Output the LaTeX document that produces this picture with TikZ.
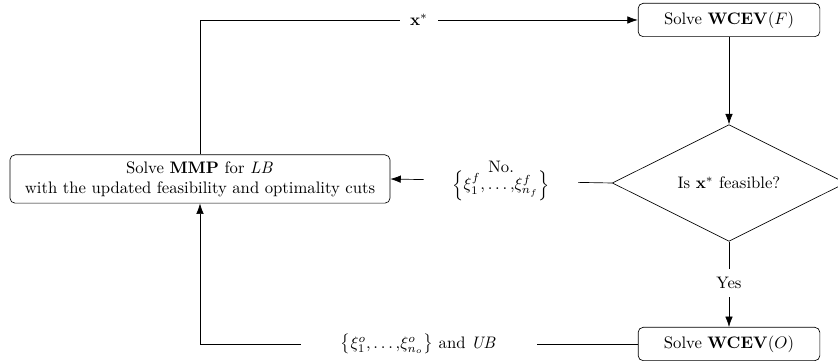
\documentclass[tikz,border=0pt]{standalone}
\usetikzlibrary{shapes.geometric, arrows.meta, positioning}
\tikzset{
  loop/.style = {
    font=\normalsize,
    >={Latex[length=2.2mm, width=1.6mm]},
  },
  solve/.style = {
    rectangle, rounded corners=3pt, draw, thin,
    minimum width=109pt, minimum height=20pt, align=center, inner sep=2pt,
  },
  master/.style = {
    solve, minimum width=228pt, minimum height=29pt,
  },
  test/.style = {
    diamond, draw, thin, minimum width=140pt, minimum height=70pt,
    inner sep=0pt, align=center,
  },
  arr/.style = {->, thin},
  lbl/.style = {fill=white, inner ysep=2pt, align=center},
}

\begin{document}
\begin{tikzpicture}[loop, x=0.6pt, y=0.6pt]

\useasboundingbox (0,0) rectangle (838,-361);

\node[master] (mmp)  at (200,-179) {Solve $\mathbf{MMP}$ for $\mathit{LB}$\\with the updated feasibility and optimality cuts};
\node[solve]  (subf) at (729,-20)  {Solve $\mathbf{WCEV}(F)$};
\node[test]   (feas) at (729,-183) {Is $\mathbf{x}^{*}$ feasible?};
\node[solve]  (subo) at (729,-344) {Solve $\mathbf{WCEV}(O)$};

\draw[arr] (mmp.north) |- node[lbl, pos=0.75, inner xsep=6pt] {$\mathbf{x}^{*}$} (subf.west);
\draw[arr] (subf.south) -- (feas.north);
\draw[arr] (feas.west) -- node[lbl, inner xsep=17pt] {No.\\[-2pt]$\left\{\xi^{f}_{1}{,}\ldots{,}\xi^{f}_{n_f}\right\}$} (mmp.east);
\draw[arr] (feas.south) -- node[lbl, pos=0.48, inner xsep=4pt, inner ysep=5pt] {Yes} (subo.north);
\draw[arr] (subo.west) -| node[lbl, pos=0.25, inner xsep=24pt] {$\left\{\xi^{o}_{1}{,}\ldots{,}\xi^{o}_{n_o}\right\}$ and $\mathit{UB}$} (mmp.south);

\end{tikzpicture}
\end{document}
